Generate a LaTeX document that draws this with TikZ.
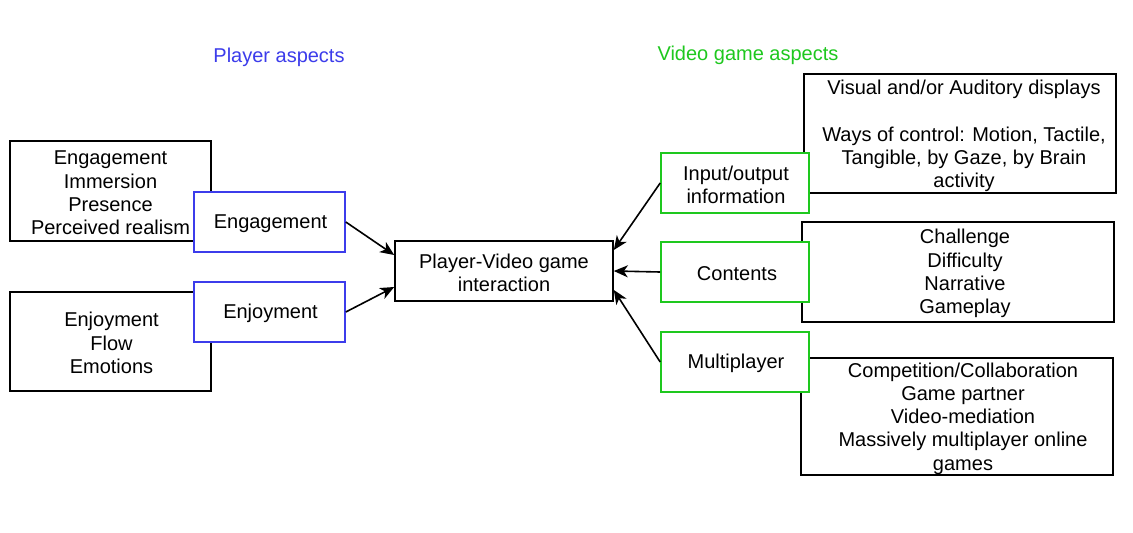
\documentclass[tikz,border=0pt]{standalone}
\usepackage{fontspec}
\setmainfont{Liberation Sans}
\usetikzlibrary{calc,arrows.meta}
\definecolor{pblue}{RGB}{60,60,235}
\definecolor{vgreen}{RGB}{30,200,30}
\tikzset{
  box/.style={draw=black,line width=1.6pt,fill=white,rectangle,inner sep=0pt,align=center,
    font=\fontsize{20}{23.2}\selectfont},
  bbox/.style={box,draw=pblue},
  gbox/.style={box,draw=vgreen},
  txt/.style={inner sep=0pt,align=center,font=\fontsize{20}{23.2}\selectfont},
  conn/.style={line width=1.6pt,-{Stealth[length=14pt,width=12pt,inset=4pt]}},
}
\begin{document}
\begin{tikzpicture}[x=1pt,y=-1pt]
\useasboundingbox (0,0) rectangle (1133,533);
\fill[white] (0,0) rectangle (1133,533);
% titles
\node[txt,text=pblue] (ptitle) at (279,57) {Player aspects};
\node[txt,text=vgreen] (vtitle) at (748,55) {Video game aspects};
% left black boxes
\node[box,minimum width=201pt,minimum height=100pt] (l1) at (110.5,191) {};
\node[txt] (l1t) at (110.5,193) {Engagement\\Immersion\\Presence\\Perceived realism};
\node[box,minimum width=201pt,minimum height=99pt] (l2) at (110.5,341.5) {};
\node[txt] (l2t) at (111.5,343) {Enjoyment\\Flow\\Emotions};
% blue boxes
\node[bbox,minimum width=151pt,minimum height=60pt] (eng) at (269.5,222) {};
\node[txt] (engt) at (270.5,224) {Engagement};
\node[bbox,minimum width=151pt,minimum height=60pt] (enj) at (269.5,312) {};
\node[txt] (enjt) at (270.5,313) {Enjoyment};
% center
\node[box,minimum width=218pt,minimum height=60pt] (c) at (504,271) {};
\node[txt] (ct) at (504,273) {Player-Video game\\interaction};
% right black boxes
\node[box,minimum width=312pt,minimum height=119pt] (r1) at (960,133.5) {};
\node[txt] (r1t) at (964,136) {Visual and/or Auditory displays\\[23.2pt]Ways of control: Motion, Tactile,\\Tangible, by Gaze, by Brain\\activity};
\node[box,minimum width=312pt,minimum height=100pt] (r2) at (958,272) {};
\node[txt] (r2t) at (965,273.5) {Challenge\\Difficulty\\Narrative\\Gameplay};
\node[box,minimum width=312pt,minimum height=117pt] (r3) at (957,416.5) {};
\node[txt] (r3t) at (963,418.5) {Competition/Collaboration\\Game partner\\Video-mediation\\Massively multiplayer online\\games};
% green boxes
\node[gbox,minimum width=148pt,minimum height=60pt] (io) at (735,183) {};
\node[txt] (iot) at (736,185) {Input/output\\information};
\node[gbox,minimum width=148pt,minimum height=60pt] (cont) at (735,272) {};
\node[txt] (contt) at (737,274) {Contents};
\node[gbox,minimum width=148pt,minimum height=60pt] (mp) at (735,362) {};
\node[txt] (mpt) at (736,363) {Multiplayer};
% connectors
\draw[conn] (eng.east) -- ($(c.west)+(0,-16)$);
\draw[conn] (enj.east) -- ($(c.west)+(0,16)$);
\draw[conn] (io.west) -- ($(c.east)+(0,-21)$);
\draw[conn] (cont.west) -- (c.east);
\draw[conn] (mp.west) -- ($(c.east)+(0,19)$);
\end{tikzpicture}
\end{document}
